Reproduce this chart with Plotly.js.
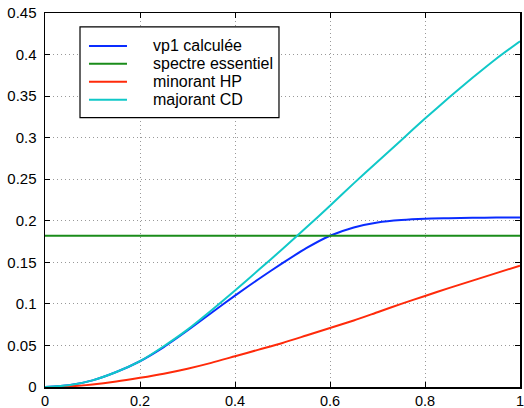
<!DOCTYPE html>
<html>
<head>
<meta charset="utf-8">
<script src="https://cdn.plot.ly/plotly-3.0.1.min.js"></script>
<style>html,body{margin:0;padding:0;background:#fff;}#chart{width:524px;height:408px;}</style>
</head>
<body>
<div id="chart"></div>
<script>
const xs = [0,0.05,0.1,0.15,0.2,0.25,0.3,0.35,0.4,0.45,0.5,0.55,0.6,0.65,0.7,0.75,0.8,0.85,0.9,0.95,1.0];
const vp1 = [0,0.002,0.008,0.018,0.031,0.048,0.068,0.089,0.110,0.130,0.149,0.167,0.182,0.192,0.198,0.201,0.2025,0.203,0.2035,0.204,0.204];
const spectre = [0.182,0.182,0.182,0.182,0.182,0.182,0.182,0.182,0.182,0.182,0.182,0.182,0.182,0.182,0.182,0.182,0.182,0.182,0.182,0.182,0.182];
const minorant = [0,0.0007,0.003,0.0065,0.011,0.016,0.022,0.029,0.037,0.045,0.053,0.062,0.071,0.080,0.090,0.100,0.1095,0.119,0.128,0.137,0.146];
const majorant = [0,0.002,0.008,0.018,0.031,0.049,0.069,0.092,0.116,0.141,0.166,0.192,0.218,0.245,0.271,0.297,0.323,0.348,0.372,0.395,0.416];
const names = ['vp1 calculée','spectre essentiel','minorant HP','majorant CD'];
const xTicks = [0,0.2,0.4,0.6,0.8,1];
const xTickText = ['0','0.2','0.4','0.6','0.8','1'];
const yTicks = [0,0.05,0.1,0.15,0.2,0.25,0.3,0.35,0.4,0.45];
const yTickText = ['0','0.05','0.1','0.15','0.2','0.25','0.3','0.35','0.4','0.45'];

const colors = ['#0a2cff','#1a8c1a','#ff2a0a','#10c8c8'];
const series = [vp1, spectre, minorant, majorant];
const traces = series.map((ys,i)=>({
  x: xs, y: ys, name: names[i], type:'scatter', mode:'lines', showlegend:false,
  line:{color:colors[i], width:2, shape:'spline', smoothing:0.6}
}));

const font = {family:'Liberation Sans, Arial, sans-serif', size:15, color:'#000'};
const xFont = {family:'Liberation Sans, Arial, sans-serif', size:14.5, color:'#000'};
const legFont = {family:'Liberation Sans, Arial, sans-serif', size:16, color:'#000'};
const axisCommon = {
  showline:true, linecolor:'#000', linewidth:1.5, mirror:'ticks',
  ticks:'inside', ticklen:5, tickcolor:'#000', tickwidth:1,
  showgrid:true, gridcolor:'#999', griddash:'1px,3px', gridwidth:1,
  zeroline:false, tickfont:font, fixedrange:true, ticklabeloverflow:'allow'
};

// hand-drawn legend box (paper coordinates)
const legBox = {x0:0.0737, x1:0.4926, y0:0.72, y1:0.9627};
const legRows = [0.912, 0.864, 0.816, 0.768];
const legLineX = [0.0926, 0.1726];
const legTextX = 0.2232;
const shapes = [{type:'rect', xref:'paper', yref:'paper', x0:legBox.x0, x1:legBox.x1, y0:legBox.y0, y1:legBox.y1,
  line:{color:'#000', width:1.2}, fillcolor:'#fff', layer:'above'}];
const annotations = [];
names.forEach((n,i)=>{
  shapes.push({type:'line', xref:'paper', yref:'paper', x0:legLineX[0], x1:legLineX[1], y0:legRows[i], y1:legRows[i],
    line:{color:colors[i], width:2}, layer:'above'});
  annotations.push({xref:'paper', yref:'paper', x:legTextX, y:legRows[i], xanchor:'left', yanchor:'middle',
    text:n, showarrow:false, font:legFont});
});

const layout = {
  width:524, height:408,
  margin:{l:45, r:4, t:13, b:21},
  paper_bgcolor:'#fff', plot_bgcolor:'#fff',
  font:font,
  xaxis: Object.assign({}, axisCommon, {range:[0,1], tickvals:xTicks, ticktext:xTickText, ticklabelstandoff:0, tickfont:xFont}),
  yaxis: Object.assign({}, axisCommon, {range:[0,0.45], tickvals:yTicks, ticktext:yTickText, ticklabelstandoff:4}),
  showlegend:false,
  shapes:shapes, annotations:annotations
};
Plotly.newPlot('chart', traces, layout, {staticPlot:true, displayModeBar:false});
</script>
</body>
</html>
